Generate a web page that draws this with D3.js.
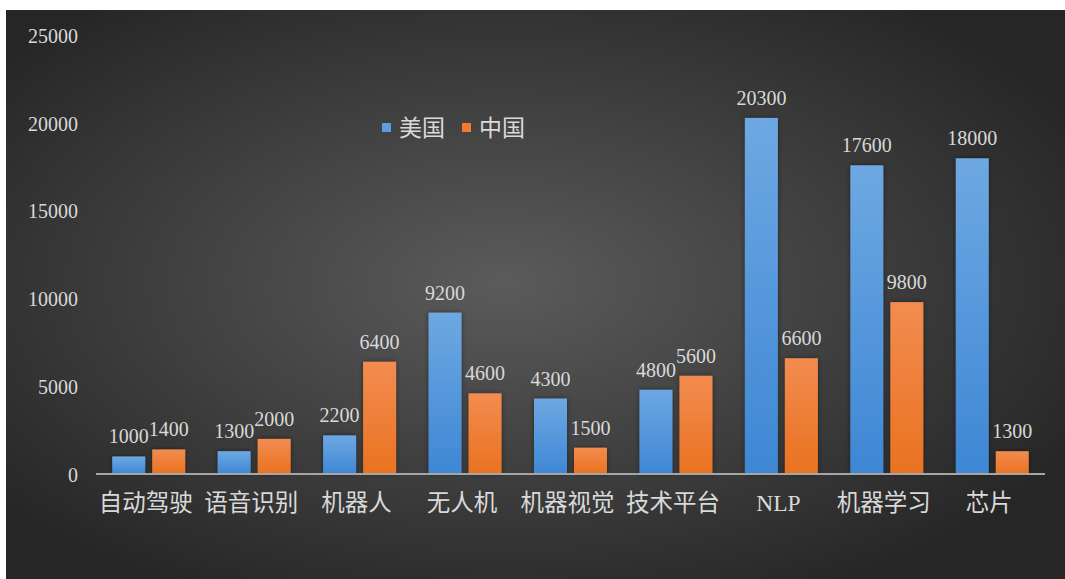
<!DOCTYPE html>
<html>
<head>
<meta charset="utf-8">
<script src="https://cdn.jsdelivr.net/npm/d3@7"></script>
<style>
  html, body { margin: 0; padding: 0; background: #ffffff; }
  svg { display: block; }
</style>
</head>
<body>
<svg id="chart" width="1065" height="579"></svg>
<script>
// Categories, series and tick values
const categories = ["自动驾驶", "语音识别", "机器人", "无人机", "机器视觉", "技术平台", "NLP", "机器学习", "芯片"];
const usValues = [1000, 1300, 2200, 9200, 4300, 4800, 20300, 17600, 18000];
const cnValues = [1400, 2000, 6400, 4600, 1500, 5600, 6600, 9800, 1300];
const seriesNames = ["美国", "中国"];
const yTicks = [0, 5000, 10000, 15000, 20000, 25000];

const W = 1065, H = 579;
const svg = d3.select("#chart");
const defs = svg.append("defs");

// Dark vignette backdrop
const bg = defs.append("radialGradient").attr("id", "bgGrad")
  .attr("cx", "47%").attr("cy", "48%").attr("r", "62%");
bg.append("stop").attr("offset", "0%").attr("stop-color", "#5b5b5b");
bg.append("stop").attr("offset", "100%").attr("stop-color", "#262626");

const blueGrad = defs.append("linearGradient").attr("id", "blueGrad")
  .attr("x1", 0).attr("y1", 0).attr("x2", 0).attr("y2", 1);
blueGrad.append("stop").attr("offset", "0%").attr("stop-color", "#6ea8e2");
blueGrad.append("stop").attr("offset", "100%").attr("stop-color", "#3e87d5");

const orangeGrad = defs.append("linearGradient").attr("id", "orangeGrad")
  .attr("x1", 0).attr("y1", 0).attr("x2", 0).attr("y2", 1);
orangeGrad.append("stop").attr("offset", "0%").attr("stop-color", "#f28c50");
orangeGrad.append("stop").attr("offset", "100%").attr("stop-color", "#ea7220");

const shadow = defs.append("filter").attr("id", "barShadow")
  .attr("x", "-30%").attr("y", "-10%").attr("width", "160%").attr("height", "120%");
shadow.append("feDropShadow").attr("dx", 0).attr("dy", 0).attr("stdDeviation", 2.5)
  .attr("flood-color", "#000").attr("flood-opacity", 0.45);

svg.append("rect").attr("x", 6).attr("y", 10).attr("width", W - 6).attr("height", H - 10)
  .attr("fill", "url(#bgGrad)");

const plot = { left: 96, right: 1045, top: 35.5, bottom: 474 };

const x = d3.scaleBand().domain(categories).range([plot.left, plot.right]).paddingInner(0).paddingOuter(0);
const y = d3.scaleLinear().domain([0, 25000]).range([plot.bottom, plot.top]);

const barW = 33, gapW = 7;
const inner = d3.scaleBand().domain([0, 1]).range([0, 2 * barW + gapW])
  .paddingInner(gapW / (barW + gapW)).paddingOuter(0);

const serif = "'Liberation Serif', 'DejaVu Serif', serif";
const mixed = "'Liberation Serif', 'Noto Sans CJK SC', sans-serif";
const textColor = "#d9d9d9";

// Y axis labels (no line, no gridlines)
const yAxis = d3.axisLeft(y).tickValues(yTicks).tickSize(0).tickPadding(0).tickFormat(d3.format("d"));
const yg = svg.append("g").attr("transform", "translate(78,0)").call(yAxis);
yg.select(".domain").remove();
yg.selectAll("text").attr("fill", textColor).style("font-family", serif).style("font-size", "20px")
  .attr("dy", "0.35em");

// Bars
const series = [
  { name: seriesNames[0], values: usValues, fill: "url(#blueGrad)" },
  { name: seriesNames[1], values: cnValues, fill: "url(#orangeGrad)" }
];
const groupOffset = (x.bandwidth() - (2 * barW + gapW)) / 2;

series.forEach((s, si) => {
  const g = svg.append("g");
  g.selectAll("rect").data(categories).join("rect")
    .attr("x", d => x(d) + groupOffset + inner(si))
    .attr("y", (d, i) => y(s.values[i]))
    .attr("width", inner.bandwidth())
    .attr("height", (d, i) => y(0) - y(s.values[i]))
    .attr("fill", s.fill)
    .attr("filter", "url(#barShadow)");
});

// Value labels above each bar
series.forEach((s, si) => {
  svg.append("g").selectAll("text").data(categories).join("text")
    .attr("x", d => x(d) + groupOffset + inner(si) + inner.bandwidth() / 2)
    .attr("y", (d, i) => y(s.values[i]) - 13)
    .attr("text-anchor", "middle")
    .attr("fill", textColor)
    .style("font-family", serif)
    .style("font-size", "20px")
    .text((d, i) => s.values[i]);
});

// Category axis
const xAxis = d3.axisBottom(x).tickSize(0).tickPadding(0);
const xg = svg.append("g").attr("transform", `translate(0,${plot.bottom})`).call(xAxis);
xg.select(".domain").attr("stroke", "#a6a6a6").attr("stroke-width", 2).attr("d", `M${plot.left},0H${plot.right}`);
xg.selectAll("text").attr("fill", textColor).style("font-family", mixed).style("font-size", "23.5px")
  .attr("y", 37).attr("dy", 0).attr("dx", -3);

// Legend
const legend = svg.append("g").attr("transform", "translate(382,128)");
const legendItems = [
  { name: seriesNames[0], color: "#5b9ee0", x: 0 },
  { name: seriesNames[1], color: "#f07b2a", x: 80 }
];
legendItems.forEach(it => {
  legend.append("rect").attr("x", it.x).attr("y", -5).attr("width", 9).attr("height", 9).attr("fill", it.color);
  legend.append("text").attr("x", it.x + 17).attr("y", 0).attr("dy", "0.35em")
    .attr("fill", textColor).style("font-family", mixed).style("font-size", "23px").text(it.name);
});
</script>
</body>
</html>
